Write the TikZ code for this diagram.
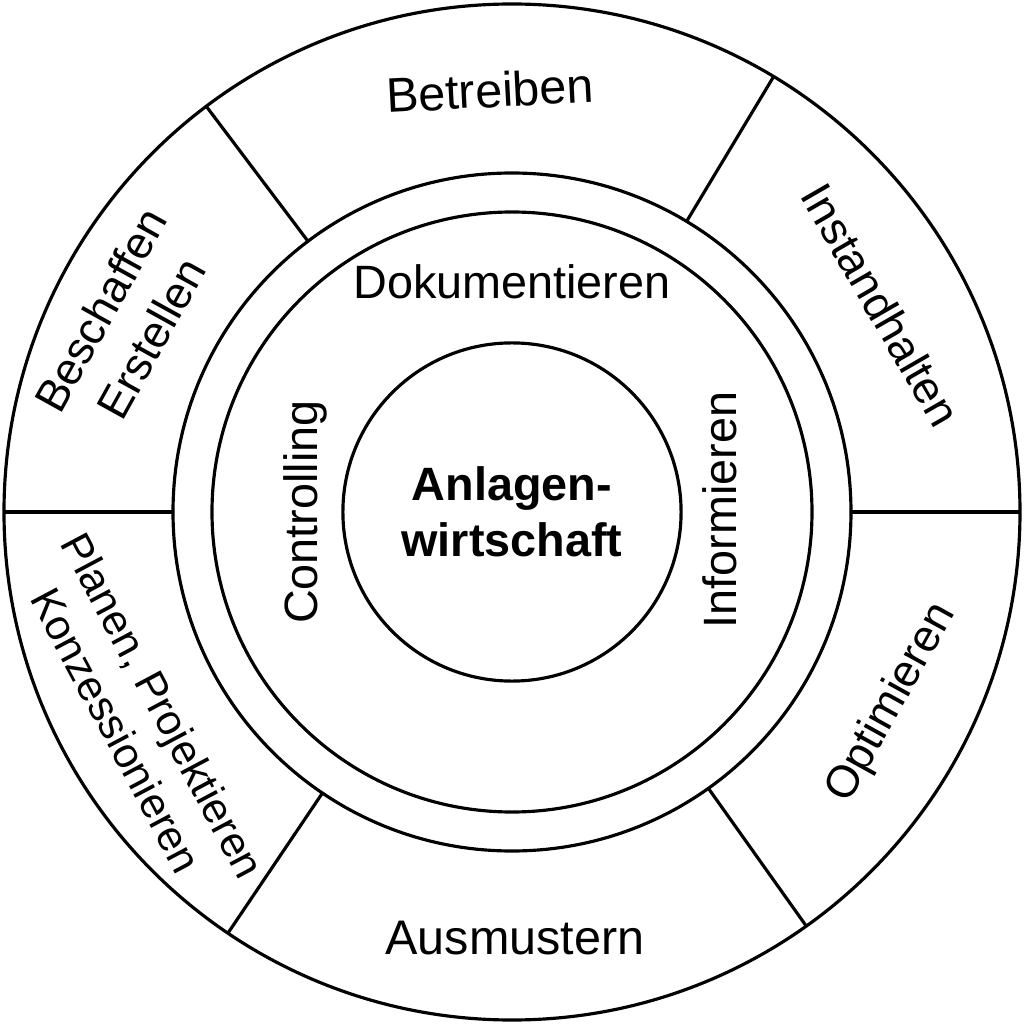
\documentclass[tikz,border=0pt]{standalone}
\usepackage{fontspec}
\setmainfont{Liberation Sans}
\begin{document}
\begin{tikzpicture}[x=0.01cm, y=0.01cm,
  ring/.style={line width=0.9pt},
  lbl/.style={font=\fontsize{13.3}{16}\selectfont, align=center, inner sep=0pt},
  side/.style={lbl, font=\fontsize{12.8}{16.5}\selectfont}]
\useasboundingbox (-512,-512) rectangle (512,512);
\draw[ring] (0,0) circle[radius=508];
\draw[ring] (0,0) circle[radius=339];
\draw[ring] (0,0) circle[radius=300];
\node[ring, draw, circle, minimum size=3.38cm, lbl, font=\fontsize{13.3}{16}\selectfont\bfseries] (core) at (0,0) {Anlagen-\\wirtschaft};
\foreach \a in {0, 59, 127, 180, 236, 305.4}
  \draw[ring] (\a:339) -- (\a:508);
\node[lbl] (doku) at (0,230) {Dokumentieren};
\node[lbl, rotate=90] (ctrl) at (-207,0) {Controlling};
\node[lbl, rotate=90] (info) at (208,2) {Informieren};
\node[lbl, rotate=3, font=\fontsize{13.8}{16}\selectfont] (betr) at (-22,422) {Betreiben};
\node[side, rotate=-60] (inst) at (369,207) {Instandhalten};
\node[side, rotate=61] (opti) at (380,-191) {Optimieren};
\node[lbl, font=\fontsize{13.8}{16}\selectfont] (ausm) at (3,-426) {Ausmustern};
\node[side, rotate=-62, font=\fontsize{12.1}{15}\selectfont] (plan) at (-372,-206) {Planen, Projektieren\\Konzessionieren};
\node[side, rotate=61] (besch) at (-386,188) {Beschaffen\\Erstellen};
\end{tikzpicture}
\end{document}
